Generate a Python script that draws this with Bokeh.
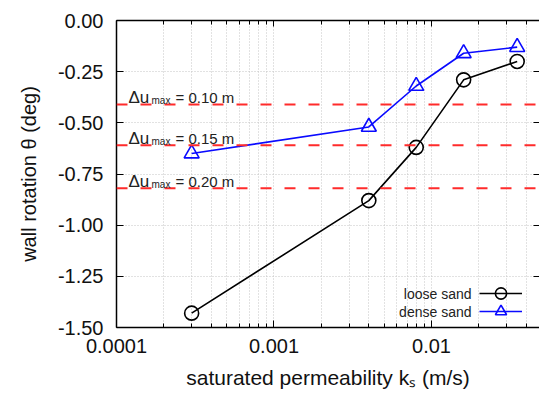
from bokeh.plotting import figure
from bokeh.models import (FixedTicker, LogAxis, LinearAxis, Span, Label, Legend,
                          LegendItem, CustomJSTickFormatter, NumeralTickFormatter)
from bokeh.embed import file_html
from bokeh.resources import INLINE

# ---- data ----
ks = [0.0003, 0.004, 0.008, 0.016, 0.035]
loose_sand = [-1.43, -0.88, -0.62, -0.29, -0.20]
dense_sand = [-0.65, -0.52, -0.32, -0.16, -0.13]
du_levels = [-0.41, -0.61, -0.82]
du_values = ["0.10", "0.15", "0.20"]
x_major = [0.0001, 0.001, 0.01]
x_minor = [0.0002, 0.0003, 0.0004, 0.0005, 0.0006, 0.0007, 0.0008, 0.0009,
           0.002, 0.003, 0.004, 0.005, 0.006, 0.007, 0.008, 0.009,
           0.02, 0.03, 0.04]
y_ticks = [0.0, -0.25, -0.5, -0.75, -1.0, -1.25, -1.5]

FONT = "Liberation Sans"

p = figure(width=539, height=397, x_axis_type="log",
           x_range=(0.0001, 0.0485), y_range=(-1.5, 0.0),
           output_backend="svg", toolbar_location=None,
           min_border_left=116, min_border_right=0,
           min_border_top=20, min_border_bottom=70)
p.outline_line_color = None
p.background_fill_color = "white"
p.border_fill_color = "white"

xt = FixedTicker(ticks=x_major, minor_ticks=x_minor)
yt = FixedTicker(ticks=y_ticks, minor_ticks=[])

# bottom axis
xa = p.xaxis[0]
xa.ticker = xt
xa.formatter = CustomJSTickFormatter(code="return tick.toString();")
xa.major_label_text_font = FONT
xa.major_label_text_font_size = "20px"
xa.major_label_text_color = "#111111"
xa.major_label_standoff = 11
xa.major_tick_in = 7
xa.major_tick_out = 0
xa.minor_tick_in = 4
xa.minor_tick_out = 0
xa.axis_line_width = 1.5
xa.axis_line_color = "black"
xa.major_tick_line_color = "black"
xa.minor_tick_line_color = "black"
xa.axis_label = "saturated permeability kₛ (m/s)"
xa.axis_label_text_font = FONT
xa.axis_label_text_font_size = "21px"
xa.axis_label_text_font_style = "normal"
xa.axis_label_text_color = "#111111"
xa.axis_label_standoff = 10

# left axis
ya = p.yaxis[0]
ya.ticker = yt
ya.formatter = NumeralTickFormatter(format="0.00")
ya.major_label_text_font = FONT
ya.major_label_text_font_size = "20px"
ya.major_label_text_color = "#111111"
ya.major_label_standoff = 13
ya.major_tick_in = 7
ya.major_tick_out = 0
ya.minor_tick_in = 0
ya.minor_tick_out = 0
ya.axis_line_width = 1.5
ya.axis_line_color = "black"
ya.axis_label = "wall rotation θ (deg)"
ya.axis_label_text_font = FONT
ya.axis_label_text_font_size = "20px"
ya.axis_label_text_font_style = "normal"
ya.axis_label_text_color = "#111111"
ya.axis_label_standoff = 15

# top axis (ticks only)
ta = LogAxis(ticker=xt, major_label_text_font_size="0px", major_label_standoff=0,
             major_tick_in=6, major_tick_out=0, minor_tick_in=4, minor_tick_out=0,
             axis_line_width=1.5, axis_line_color="black")
ta.formatter = CustomJSTickFormatter(code="return '';")
p.add_layout(ta, "above")

# right axis (ticks only)
ra = LinearAxis(ticker=yt, major_label_text_font_size="0px", major_label_standoff=0,
                major_tick_in=6, major_tick_out=0, minor_tick_in=0, minor_tick_out=0,
                axis_line_color=None)
ra.formatter = CustomJSTickFormatter(code="return '';")
p.add_layout(ra, "right")

# grids
p.xgrid.ticker = xt
p.ygrid.ticker = yt
for g in (p.xgrid[0], p.ygrid[0]):
    g.grid_line_color = "#c4c4c4"
    g.grid_line_dash = "1 2"
    g.grid_line_width = 1
p.xgrid[0].minor_grid_line_color = "#c4c4c4"
p.xgrid[0].minor_grid_line_dash = "1 2"

# threshold lines and their labels
for lvl, val in zip(du_levels, du_values):
    p.add_layout(Span(location=lvl, dimension="width", line_color="#ff2b2b",
                      line_dash="11 13", line_width=2))
    p.add_layout(Label(x=12, y=lvl, x_units="screen", y_units="data", y_offset=7,
                       text="Δu", text_font=FONT, text_font_size="17px",
                       text_color="#222222", text_baseline="alphabetic"))
    p.add_layout(Label(x=35, y=lvl, x_units="screen", y_units="data", y_offset=4,
                       text="max", text_font=FONT, text_font_size="10px",
                       text_color="#222222", text_baseline="alphabetic"))
    p.add_layout(Label(x=59, y=lvl, x_units="screen", y_units="data", y_offset=7,
                       text="= " + val + " m", text_font=FONT, text_font_size="15px",
                       text_color="#222222", text_baseline="alphabetic"))

# data series
l1 = p.line(ks, loose_sand, line_color="black", line_width=1.6)
s1 = p.scatter(ks, loose_sand, marker="circle", size=14, line_color="black",
               line_width=1.6, fill_color=None)
l2 = p.line(ks, dense_sand, line_color="#0a0aff", line_width=1.6)
s2 = p.scatter(ks, dense_sand, marker="triangle", size=15, line_color="#0a0aff",
               line_width=1.6, fill_color=None)

# legend glyphs (Bokeh Legend), texts placed on their left
legend_common = dict(glyph_width=43, glyph_height=28, label_height=28, spacing=0,
                     padding=0, margin=0, label_text_font_size="1px",
                     label_standoff=0, border_line_color=None,
                     background_fill_alpha=0)
p.add_layout(Legend(items=[LegendItem(label=" ", renderers=[l1, s1])],
                    location=(363, 20), **legend_common))
p.add_layout(Legend(items=[LegendItem(label=" ", renderers=[l2, s2])],
                    location=(363, 2), **legend_common))
p.add_layout(Label(x=355, y=34, x_units="screen", y_units="screen",
                   text="loose sand", text_font=FONT, text_font_size="14px",
                   text_color="#222222", text_align="right", text_baseline="middle"))
p.add_layout(Label(x=355, y=16, x_units="screen", y_units="screen",
                   text="dense sand", text_font=FONT, text_font_size="14px",
                   text_color="#222222", text_align="right", text_baseline="middle"))

open("out.html", "w").write(file_html(p, INLINE))
